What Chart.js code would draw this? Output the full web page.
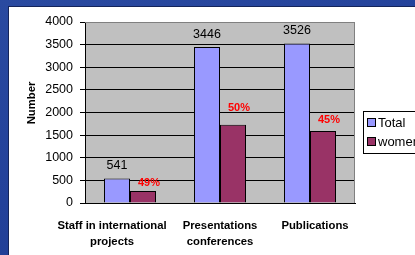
<!DOCTYPE html>
<html>
<head>
<meta charset="utf-8">
<script src="https://cdn.jsdelivr.net/npm/chart.js@4/dist/chart.umd.min.js"></script>
<style>
  html, body { margin: 0; padding: 0; }
  body { width: 415px; height: 255px; overflow: hidden; position: relative;
         background: linear-gradient(160deg, #2a4aa0 0%, #23419a 50%, #1f3b8e 100%); }
  #panel { position: absolute; left: 8px; top: 6px; width: 407px; height: 249px;
           background: #ffffff; border-left: 1px solid #14245a; border-top: 1px solid #14245a; box-sizing: border-box; }
  #wrap { position: absolute; left: 0; top: 0; width: 415px; height: 255px; }
</style>
</head>
<body>
<div id="panel"></div>
<div id="wrap"><canvas id="c" width="415" height="255"></canvas></div>
<script>
const categories = [["Staff in international", "projects"], ["Presentations", "conferences"], ["Publications"]];
const totalValues = [541, 3446, 3526];
const womenValues = [265, 1730, 1590];
const womenPctLabels = ["49%", "50%", "45%"];
const seriesNames = ["Total", "women"];
const yTicks = [0, 500, 1000, 1500, 2000, 2500, 3000, 3500, 4000];
const yAxisTitle = "Number";

const FONT = "'Liberation Sans', Arial, sans-serif";

const plotBg = {
  id: 'plotBg',
  beforeDraw(chart) {
    const {ctx, chartArea: a} = chart;
    ctx.save();
    ctx.fillStyle = '#C0C0C0';
    ctx.fillRect(a.left, a.top, a.right - a.left, a.bottom - a.top);
    ctx.restore();
  },
  afterDraw(chart) {
    const {ctx, chartArea: a} = chart;
    ctx.save();
    ctx.strokeStyle = '#808080';
    ctx.lineWidth = 1;
    ctx.beginPath();
    ctx.moveTo(a.left, a.top + 0.5);
    ctx.lineTo(a.right - 0.5, a.top + 0.5);
    ctx.lineTo(a.right - 0.5, a.bottom);
    ctx.stroke();
    ctx.restore();
  }
};

const labelsPlugin = {
  id: 'valueLabels',
  afterDatasetsDraw(chart) {
    const {ctx} = chart;
    ctx.save();
    ctx.textAlign = 'center';
    ctx.textBaseline = 'middle';
    const m0 = chart.getDatasetMeta(0);
    ctx.font = '12.5px ' + FONT;
    ctx.fillStyle = '#000';
    m0.data.forEach((bar, i) => {
      ctx.fillText(String(totalValues[i]), bar.x, bar.y - 12.5);
    });
    const m1 = chart.getDatasetMeta(1);
    const dys = [8, 17, 11];
    ctx.font = 'bold 11px ' + FONT;
    ctx.fillStyle = '#FF0000';
    m1.data.forEach((bar, i) => {
      ctx.fillText(womenPctLabels[i], bar.x + 6, bar.y - dys[i]);
    });
    ctx.restore();
  }
};

const xLabelsPlugin = {
  id: 'xLabels',
  afterDraw(chart) {
    const {ctx} = chart;
    const xs = chart.scales.x;
    const dxs = [-18, 0, 5];
    ctx.save();
    ctx.font = 'bold 11.3px ' + FONT;
    ctx.fillStyle = '#000';
    ctx.textAlign = 'center';
    ctx.textBaseline = 'middle';
    const base = chart.chartArea.bottom;
    categories.forEach((lines, i) => {
      const x = xs.getPixelForValue(i) + dxs[i];
      lines.forEach((t, j) => ctx.fillText(t, x, base + 23 + j * 16));
    });
    ctx.restore();
  }
};

const yTitlePlugin = {
  id: 'yTitle',
  afterDraw(chart) {
    const {ctx} = chart;
    ctx.save();
    ctx.translate(32, 103);
    ctx.rotate(-Math.PI / 2);
    ctx.font = 'bold 11.3px ' + FONT;
    ctx.fillStyle = '#000';
    ctx.textAlign = 'center';
    ctx.textBaseline = 'middle';
    ctx.fillText(yAxisTitle, 0, 0);
    ctx.restore();
  }
};

const legendPlugin = {
  id: 'boxLegend',
  afterDraw(chart) {
    const {ctx} = chart;
    ctx.save();
    ctx.fillStyle = '#fff';
    ctx.fillRect(363.5, 111.5, 60, 42);
    ctx.strokeStyle = '#000';
    ctx.lineWidth = 1;
    ctx.strokeRect(363.5, 111.5, 60, 42);
    ctx.font = '13px ' + FONT;
    ctx.textBaseline = 'middle';
    ctx.textAlign = 'left';
    chart.data.datasets.forEach((ds, i) => {
      const y = 122.5 + i * 19;
      ctx.fillStyle = ds.backgroundColor;
      ctx.fillRect(367.5, y - 4, 8, 8);
      ctx.strokeRect(367.5, y - 4, 8, 8);
      ctx.fillStyle = '#000';
      ctx.fillText(ds.label, 378, y + 0.5);
    });
    ctx.restore();
  }
};

new Chart(document.getElementById('c'), {
  type: 'bar',
  data: {
    labels: categories,
    datasets: [
      { label: seriesNames[0], data: totalValues, backgroundColor: '#9999FF', borderColor: '#000', borderWidth: 1 },
      { label: seriesNames[1], data: womenValues, backgroundColor: '#993366', borderColor: '#000', borderWidth: 1 }
    ]
  },
  options: {
    responsive: false,
    devicePixelRatio: 1,
    animation: false,
    layout: { padding: { left: 0, top: 22, right: 60, bottom: 0 } },
    plugins: { legend: { display: false }, tooltip: { enabled: false } },
    datasets: { bar: { categoryPercentage: 0.578, barPercentage: 1.0 } },
    scales: {
      x: {
        grid: { display: false, drawTicks: false },
        border: { display: true, color: '#000', width: 1 },
        ticks: { display: false },
        afterFit(s) { s.height = 52; }
      },
      y: {
        min: 0, max: 4000,
        afterBuildTicks(s) { s.ticks = yTicks.map(v => ({ value: v })); },
        grid: {
          color: ctx => (ctx.tick && ctx.tick.value === 4000) ? '#808080' : '#000',
          tickColor: '#000',
          tickLength: 5,
          lineWidth: 1
        },
        border: { display: true, color: '#000', width: 1 },
        ticks: { color: '#000', padding: 7, font: { family: FONT, size: 12.5 },
                 callback: v => String(v) },
        afterFit(s) { s.width = 85; }
      }
    }
  },
  plugins: [plotBg, labelsPlugin, xLabelsPlugin, yTitlePlugin, legendPlugin]
});
</script>
</body>
</html>
